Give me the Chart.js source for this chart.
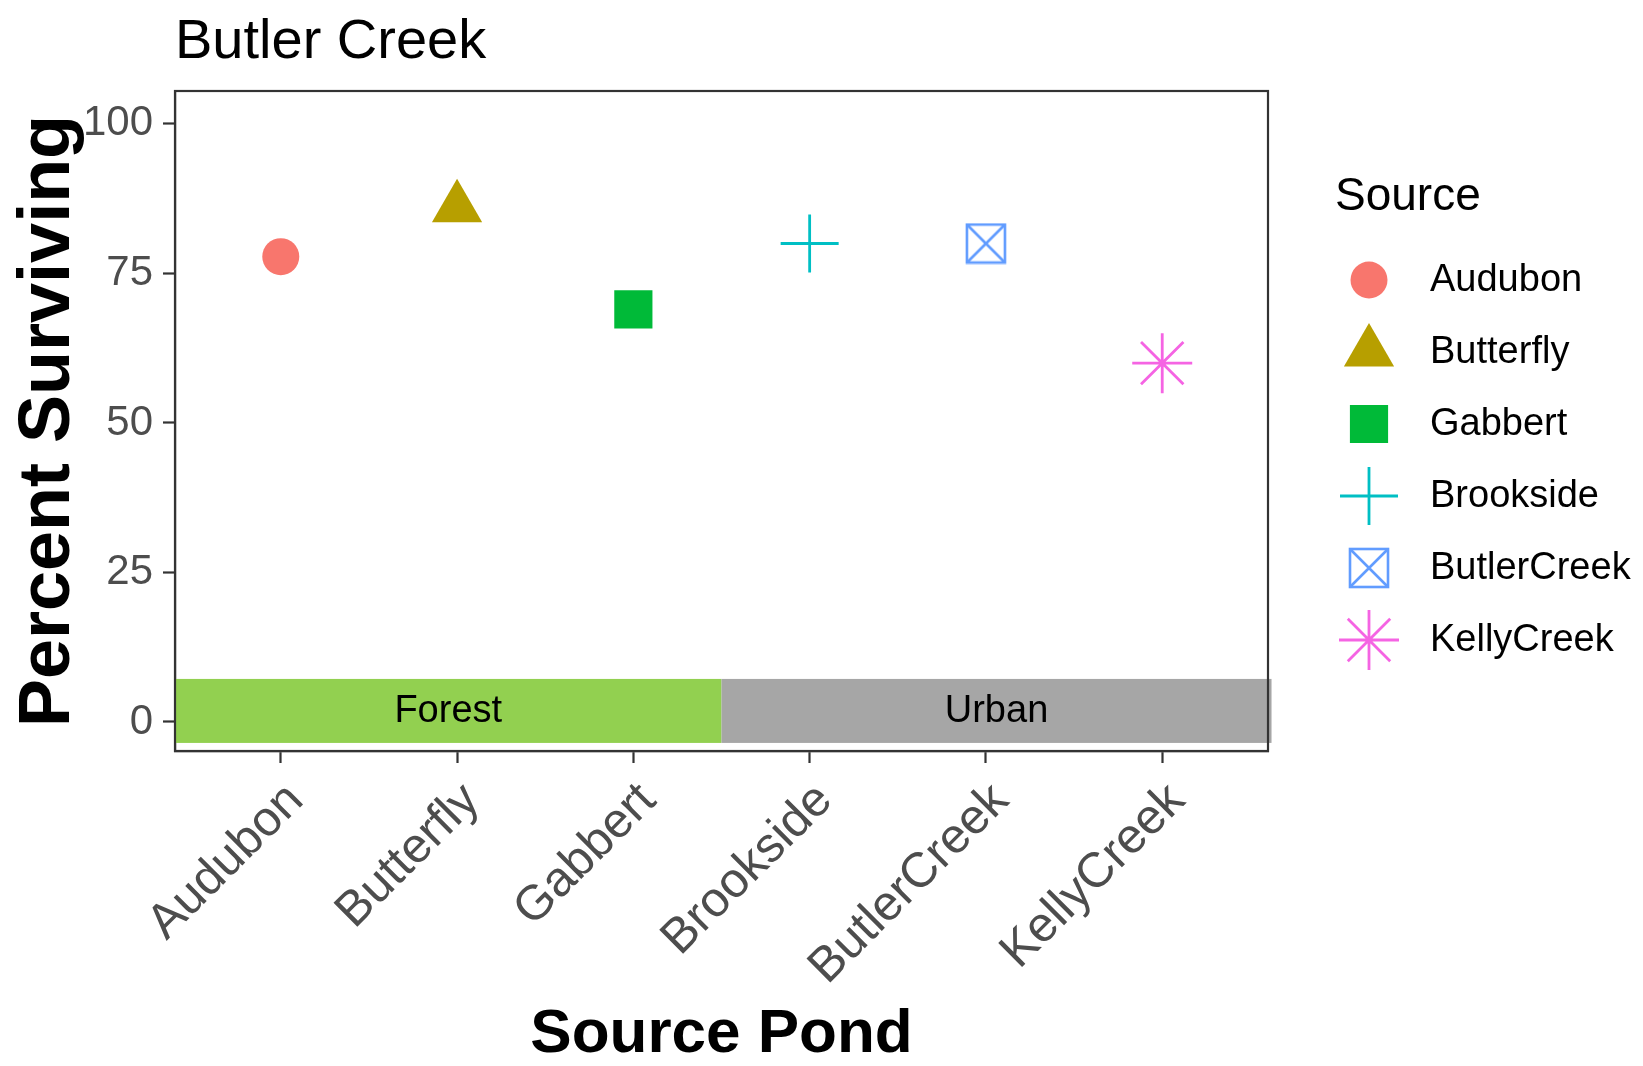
<!DOCTYPE html>
<html>
<head>
<meta charset="utf-8">
<script src="https://cdn.jsdelivr.net/npm/chart.js@4.4.1/dist/chart.umd.min.js"></script>
<style>
html,body{margin:0;padding:0;background:#fff;}
canvas{display:block;}
</style>
</head>
<body>
<canvas id="c" width="1643" height="1066"></canvas>
<script>
// ---- data ----
const categories = ['Audubon','Butterfly','Gabbert','Brookside','ButlerCreek','KellyCreek'];
const survival = [77.8, 86, 69, 80, 80, 60];
const seriesColors = ['#F8766D','#B79F00','#00BA38','#00BFC4','#619CFF','#F564E3'];
const yTicks = [0, 25, 50, 75, 100];
const habitatLabels = ['Forest','Urban'];
const habitatStart = [-0.6, 2.5];
const habitatEnd = [2.5, 5.62];
const habitatColors = ['#92D050','#A6A6A6'];
const bandLow = -3.5;
const bandHigh = 7.2;
const chartTitle = 'Butler Creek';
const legendTitle = 'Source';

// box with X symbol for ButlerCreek
function boxX(color){
  const s = 42, c = document.createElement('canvas');
  c.width = s; c.height = s;
  const g = c.getContext('2d');
  g.strokeStyle = color; g.lineWidth = 2.6;
  g.strokeRect(2, 2, s-4, s-4);
  g.beginPath();
  g.moveTo(2,2); g.lineTo(s-2,s-2);
  g.moveTo(s-2,2); g.lineTo(2,s-2);
  g.stroke();
  return c;
}

const styles = [
  {pointStyle:'circle', radius:18.5, fill:true},
  {pointStyle:'triangle', radius:29, fill:true},
  {pointStyle:'rect', radius:27, fill:true},
  {pointStyle:'cross', radius:29, fill:false},
  {pointStyle:boxX(seriesColors[4]), radius:21, fill:false},
  {pointStyle:'star', radius:30, fill:false}
];

const datasets = categories.map((name, i) => ({
  label: name,
  data: [{x: i, y: survival[i]}],
  pointStyle: styles[i].pointStyle,
  pointRadius: styles[i].radius,
  backgroundColor: styles[i].fill ? seriesColors[i] : 'rgba(0,0,0,0)',
  borderColor: seriesColors[i],
  borderWidth: styles[i].fill ? 0 : 2.8,
  pointBorderWidth: styles[i].fill ? 0 : 2.8
}));

const sans = "'Liberation Sans', Arial, sans-serif";

const decor = {
  id: 'decor',
  beforeDatasetsDraw(chart){
    const {ctx, scales:{x, y}} = chart;
    ctx.save();
    habitatLabels.forEach((lab, i) => {
      const x0 = x.getPixelForValue(habitatStart[i]);
      const x1 = x.getPixelForValue(habitatEnd[i]);
      const y0 = y.getPixelForValue(bandHigh);
      const y1 = y.getPixelForValue(bandLow);
      ctx.fillStyle = habitatColors[i];
      ctx.fillRect(x0, y0, x1 - x0, y1 - y0);
      ctx.fillStyle = '#000';
      ctx.font = '38px ' + sans;
      ctx.textAlign = 'center';
      ctx.textBaseline = 'middle';
      ctx.fillText(lab, (x0 + x1) / 2, (y0 + y1) / 2 + 1);
    });
    ctx.restore();
  },
  afterDraw(chart){
    const {ctx, chartArea:a} = chart;
    ctx.save();
    // panel border
    ctx.strokeStyle = '#333';
    ctx.lineWidth = 2.2;
    ctx.strokeRect(a.left, a.top, a.right - a.left, a.bottom - a.top);
    // title
    ctx.fillStyle = '#000';
    ctx.font = '56px ' + sans;
    ctx.textAlign = 'left';
    ctx.textBaseline = 'alphabetic';
    ctx.fillText(chartTitle, 175, 58);
    // legend
    ctx.font = '46px ' + sans;
    ctx.textBaseline = 'middle';
    ctx.fillText(legendTitle, 1335, 197);
    ctx.font = '38px ' + sans;
    chart.data.datasets.forEach((ds, i) => {
      const cy = 280 + 72 * i;
      const opts = {
        pointStyle: ds.pointStyle, radius: ds.pointRadius, rotation: 0,
        borderWidth: ds.pointBorderWidth
      };
      ctx.fillStyle = ds.backgroundColor;
      ctx.strokeStyle = ds.borderColor;
      ctx.lineWidth = ds.pointBorderWidth;
      Chart.helpers.drawPoint(ctx, opts, 1369, cy);
      ctx.fillStyle = '#000';
      ctx.fillText(ds.label, 1430, cy + 1);
    });
    ctx.restore();
  }
};

new Chart(document.getElementById('c'), {
  type: 'scatter',
  data: {datasets},
  options: {
    responsive: false,
    animation: false,
    events: [],
    layout: {padding: {left: 0, right: 375, top: 91, bottom: 0}},
    plugins: {legend: {display: false}, tooltip: {enabled: false}, title: {display: false}},
    scales: {
      x: {
        type: 'linear', min: -0.6, max: 5.6,
        afterBuildTicks(s){ s.ticks = categories.map((c, i) => ({value: i})); },
        afterFit(s){ s.height = 315; },
        grid: {drawOnChartArea: false, drawTicks: true, tickLength: 12, tickColor: '#333', tickWidth: 2.2},
        border: {display: true, color: '#333', width: 2.2},
        ticks: {
          autoSkip: false, minRotation: 45, maxRotation: 45, padding: 9, labelOffset: 15,
          color: '#4d4d4d', font: {family: sans, size: 49},
          callback: (v) => categories[v]
        },
        title: {display: true, text: 'Source Pond', color: '#000',
          font: {family: sans, size: 62, weight: 'bold', lineHeight: 1}, padding: {top: 0, bottom: 0}}
      },
      y: {
        min: -4.85, max: 105.5,
        afterBuildTicks(s){ s.ticks = yTicks.map(v => ({value: v})); },
        afterFit(s){ s.width = 175; },
        grid: {drawOnChartArea: false, drawTicks: true, tickLength: 12, tickColor: '#333', tickWidth: 2.2},
        border: {display: true, color: '#333', width: 2.2},
        ticks: {padding: 10, color: '#4d4d4d',
          font: {family: "'Liberation Sans Narrow', 'Liberation Sans', Arial, sans-serif", size: 42}},
        title: {display: true, text: 'Percent Surviving', color: '#000',
          font: {family: sans, size: 72, weight: 'bold', lineHeight: 1}, padding: {top: 13, bottom: 0}}
      }
    }
  },
  plugins: [decor]
});
</script>
</body>
</html>
